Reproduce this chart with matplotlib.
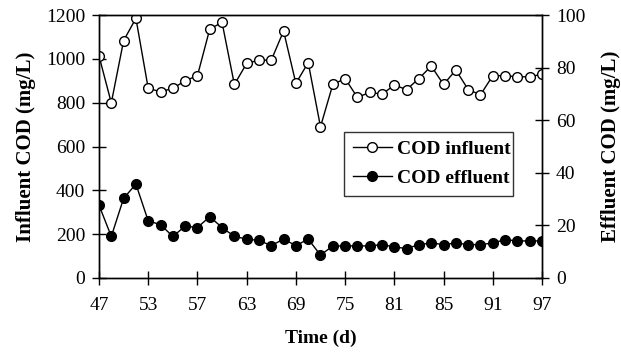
import numpy as np
import matplotlib.pyplot as plt

plt.rcParams['font.family'] = ['Liberation Serif', 'DejaVu Serif']

# Data (one point per sampling, labels every 4th)
tick_labels = ['47', '53', '57', '63', '69', '75', '81', '85', '91', '97']
influent = [1013, 799, 1083, 1185, 865, 850, 865, 900, 923, 1136,
            1166, 883, 979, 994, 994, 1127, 888, 983, 690, 883,
            910, 824, 847, 839, 880, 860, 910, 967, 883, 949,
            860, 836, 923, 923, 918, 918, 930]
effluent = [27.7, 15.8, 30.3, 35.7, 21.7, 20.3, 15.8, 19.7, 19.2, 23.3,
            19.2, 15.8, 14.8, 14.3, 12.3, 14.8, 12.3, 14.8, 8.7, 12.2,
            12.2, 12.2, 12.2, 12.7, 11.8, 11.2, 12.7, 13.3, 12.7, 13.3,
            12.7, 12.7, 13.3, 14.6, 14.1, 14.1, 14.1]

x = np.arange(len(influent))

fig = plt.figure(figsize=(6.21, 3.62), dpi=100)
ax = fig.add_axes([99 / 621, 1 - 278 / 362, 443 / 621, 263 / 362])
ax2 = ax.twinx()

l1, = ax.plot(x, influent, color='black', lw=1, marker='o', ms=7,
              mfc='white', mec='black', mew=1, label='COD influent')
l2, = ax2.plot(x, effluent, color='black', lw=1, marker='o', ms=7,
               mfc='black', mec='black', label='COD effluent')

ax.set_xlim(0, len(x) - 1)
ax.set_ylim(0, 1200)
ax2.set_ylim(0, 100)
ax.set_xticks(x[::4])
ax.set_xticklabels(tick_labels)
ax.set_yticks(range(0, 1201, 200))
ax2.set_yticks(range(0, 101, 20))

for a in (ax, ax2):
    a.tick_params(direction='inout', length=10, width=1, labelsize=14, pad=5)
    for s in a.spines.values():
        s.set_linewidth(1)
ax.tick_params(axis='x', pad=9)

ax.set_xlabel('Time (d)', fontsize=14, fontweight='bold', labelpad=11)
ax.set_ylabel('Influent COD (mg/L)', fontsize=15, fontweight='bold', labelpad=7)
ax2.set_ylabel('Effluent COD (mg/L)', fontsize=15, fontweight='bold', labelpad=11)

leg = ax2.legend(handles=[l1, l2], loc='lower left', bbox_to_anchor=(0.553, 0.312, 0.382, 0.236),
                 mode='expand', frameon=True, fancybox=False, edgecolor='black',
                 prop={'weight': 'bold', 'size': 14}, handlelength=2.0,
                 handletextpad=0.3, borderpad=0.45, labelspacing=0.6, borderaxespad=0)
leg.get_frame().set_linewidth(1)

plt.savefig('out.png', dpi=100)
